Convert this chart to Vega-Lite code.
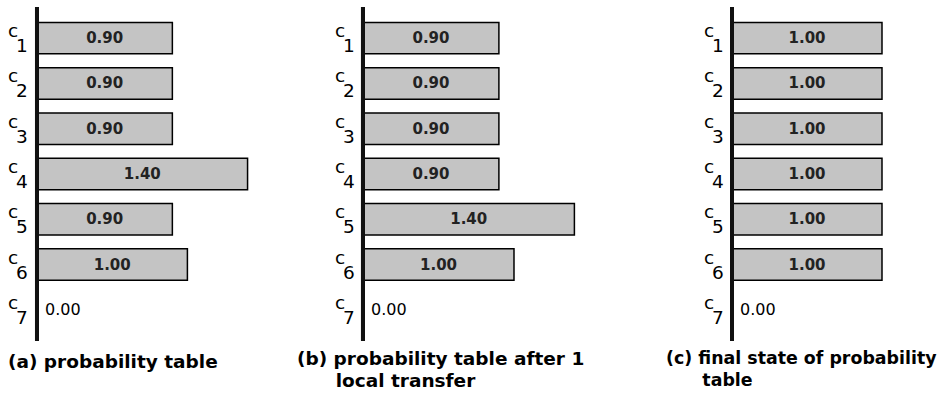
{
  "$schema": "https://vega.github.io/schema/vega-lite/v6.json",
  "padding": {"left": 0, "top": 5, "right": 0, "bottom": 0},
  "background": "white",
  "bounds": "flush",
  "spacing": 0,
  "config": {"view": {"fill": "white", "stroke": null}},
  "data": {"values": [
    {"panel": "a", "cell": "c1", "idx": "1", "value": 0.9},
    {"panel": "a", "cell": "c2", "idx": "2", "value": 0.9},
    {"panel": "a", "cell": "c3", "idx": "3", "value": 0.9},
    {"panel": "a", "cell": "c4", "idx": "4", "value": 1.4},
    {"panel": "a", "cell": "c5", "idx": "5", "value": 0.9},
    {"panel": "a", "cell": "c6", "idx": "6", "value": 1.0},
    {"panel": "a", "cell": "c7", "idx": "7", "value": 0.0},
    {"panel": "b", "cell": "c1", "idx": "1", "value": 0.9},
    {"panel": "b", "cell": "c2", "idx": "2", "value": 0.9},
    {"panel": "b", "cell": "c3", "idx": "3", "value": 0.9},
    {"panel": "b", "cell": "c4", "idx": "4", "value": 0.9},
    {"panel": "b", "cell": "c5", "idx": "5", "value": 1.4},
    {"panel": "b", "cell": "c6", "idx": "6", "value": 1.0},
    {"panel": "b", "cell": "c7", "idx": "7", "value": 0.0},
    {"panel": "c", "cell": "c1", "idx": "1", "value": 1.0},
    {"panel": "c", "cell": "c2", "idx": "2", "value": 1.0},
    {"panel": "c", "cell": "c3", "idx": "3", "value": 1.0},
    {"panel": "c", "cell": "c4", "idx": "4", "value": 1.0},
    {"panel": "c", "cell": "c5", "idx": "5", "value": 1.0},
    {"panel": "c", "cell": "c6", "idx": "6", "value": 1.0},
    {"panel": "c", "cell": "c7", "idx": "7", "value": 0.0}
  ]},
  "hconcat": [
    {
      "width": 326, "height": 334,
      "transform": [{"filter": "datum.panel == 'a'"}],
      "title": {"text": "(a) probability table", "orient": "bottom", "anchor": "start", "frame": "group", "dx": 8, "offset": 10, "font": "DejaVu Sans", "fontSize": 18.5, "fontWeight": "bold", "color": "black"},
      "encoding": {"y": {"field": "cell", "type": "nominal", "scale": {"domain": ["c1","c2","c3","c4","c5","c6","c7"], "paddingInner": 0.305, "paddingOuter": 0.34}, "axis": null}},
      "resolve": {"scale": {"x": "independent"}},
      "layer": [
        {"transform": [{"filter": "datum.value > 0"}], "mark": {"type": "bar", "fill": "#c4c4c4", "stroke": "black", "strokeWidth": 1.5},
         "encoding": {"x": {"field": "value", "type": "quantitative", "scale": {"domain": [-0.246, 1.9215], "nice": false, "zero": false}, "axis": null}}},
        {"mark": {"type": "rule", "stroke": "#111", "strokeWidth": 4},
         "encoding": {"x": {"datum": 0, "type": "quantitative", "scale": {"domain": [-0.246, 1.9215], "nice": false, "zero": false}, "axis": null}, "y": null}},
        {"mark": {"type": "text", "text": "c", "font": "DejaVu Sans", "fontSize": 18.5, "align": "center", "baseline": "alphabetic", "dx": -24, "dy": -1, "color": "black"},
         "encoding": {"x": {"datum": 0, "type": "quantitative", "scale": {"domain": [-0.246, 1.9215], "nice": false, "zero": false}, "axis": null}}},
        {"mark": {"type": "text", "font": "DejaVu Sans", "fontSize": 18.5, "align": "center", "baseline": "alphabetic", "dx": -15, "dy": 14, "color": "black"},
         "encoding": {"x": {"datum": 0, "type": "quantitative", "scale": {"domain": [-0.246, 1.9215], "nice": false, "zero": false}, "axis": null}, "text": {"field": "idx"}}},
        {"transform": [{"filter": "datum.value == 0"}], "mark": {"type": "text", "font": "DejaVu Sans", "fontSize": 16, "align": "left", "baseline": "middle", "dx": 8, "color": "black"},
         "encoding": {"x": {"datum": 0, "type": "quantitative", "scale": {"domain": [-0.246, 1.9215], "nice": false, "zero": false}, "axis": null}, "text": {"field": "value", "format": ".2f"}}},
        {"transform": [{"filter": "datum.value > 0"}], "mark": {"type": "text", "font": "DejaVu Sans", "fontSize": 15, "fontWeight": "bold", "align": "center", "baseline": "middle", "color": "#222222"},
         "encoding": {"x": {"field": "value", "type": "quantitative", "scale": {"domain": [-0.492, 3.843], "nice": false, "zero": false}, "axis": null}, "text": {"field": "value", "format": ".2f"}}}
      ]
    },
    {
      "width": 369, "height": 334,
      "transform": [{"filter": "datum.panel == 'b'"}],
      "title": {"text": ["(b) probability table after 1", "\u200b\u00a0\u00a0\u00a0\u00a0\u00a0\u00a0local transfer"], "orient": "bottom", "anchor": "start", "frame": "group", "dx": -29, "offset": 7, "lineHeight": 22, "font": "DejaVu Sans", "fontSize": 18.5, "fontWeight": "bold", "color": "black"},
      "encoding": {"y": {"field": "cell", "type": "nominal", "scale": {"domain": ["c1","c2","c3","c4","c5","c6","c7"], "paddingInner": 0.305, "paddingOuter": 0.34}, "axis": null}},
      "resolve": {"scale": {"x": "independent"}},
      "layer": [
        {"transform": [{"filter": "datum.value > 0"}], "mark": {"type": "bar", "fill": "#c4c4c4", "stroke": "black", "strokeWidth": 1.5},
         "encoding": {"x": {"field": "value", "type": "quantitative", "scale": {"domain": [-0.245, 2.1987], "nice": false, "zero": false}, "axis": null}}},
        {"mark": {"type": "rule", "stroke": "#111", "strokeWidth": 4},
         "encoding": {"x": {"datum": 0, "type": "quantitative", "scale": {"domain": [-0.245, 2.1987], "nice": false, "zero": false}, "axis": null}, "y": null}},
        {"mark": {"type": "text", "text": "c", "font": "DejaVu Sans", "fontSize": 18.5, "align": "center", "baseline": "alphabetic", "dx": -23, "dy": -1, "color": "black"},
         "encoding": {"x": {"datum": 0, "type": "quantitative", "scale": {"domain": [-0.245, 2.1987], "nice": false, "zero": false}, "axis": null}}},
        {"mark": {"type": "text", "font": "DejaVu Sans", "fontSize": 18.5, "align": "center", "baseline": "alphabetic", "dx": -14, "dy": 14, "color": "black"},
         "encoding": {"x": {"datum": 0, "type": "quantitative", "scale": {"domain": [-0.245, 2.1987], "nice": false, "zero": false}, "axis": null}, "text": {"field": "idx"}}},
        {"transform": [{"filter": "datum.value == 0"}], "mark": {"type": "text", "font": "DejaVu Sans", "fontSize": 16, "align": "left", "baseline": "middle", "dx": 8, "color": "black"},
         "encoding": {"x": {"datum": 0, "type": "quantitative", "scale": {"domain": [-0.245, 2.1987], "nice": false, "zero": false}, "axis": null}, "text": {"field": "value", "format": ".2f"}}},
        {"transform": [{"filter": "datum.value > 0"}], "mark": {"type": "text", "font": "DejaVu Sans", "fontSize": 15, "fontWeight": "bold", "align": "center", "baseline": "middle", "color": "#222222"},
         "encoding": {"x": {"field": "value", "type": "quantitative", "scale": {"domain": [-0.49, 4.3974], "nice": false, "zero": false}, "axis": null}, "text": {"field": "value", "format": ".2f"}}}
      ]
    },
    {
      "width": 245, "height": 334,
      "transform": [{"filter": "datum.panel == 'c'"}],
      "title": {"text": ["(c) final state of probability", "\u200b\u00a0\u00a0\u00a0\u00a0\u00a0\u00a0table"], "orient": "bottom", "anchor": "start", "frame": "group", "dx": -29, "offset": 7, "lineHeight": 22, "font": "DejaVu Sans", "fontSize": 17.4, "fontWeight": "bold", "color": "black"},
      "encoding": {"y": {"field": "cell", "type": "nominal", "scale": {"domain": ["c1","c2","c3","c4","c5","c6","c7"], "paddingInner": 0.305, "paddingOuter": 0.34}, "axis": null}},
      "resolve": {"scale": {"x": "independent"}},
      "layer": [
        {"transform": [{"filter": "datum.value > 0"}], "mark": {"type": "bar", "fill": "#c4c4c4", "stroke": "black", "strokeWidth": 1.5},
         "encoding": {"x": {"field": "value", "type": "quantitative", "scale": {"domain": [-0.2467, 1.3867], "nice": false, "zero": false}, "axis": null}}},
        {"mark": {"type": "rule", "stroke": "#111", "strokeWidth": 4},
         "encoding": {"x": {"datum": 0, "type": "quantitative", "scale": {"domain": [-0.2467, 1.3867], "nice": false, "zero": false}, "axis": null}, "y": null}},
        {"mark": {"type": "text", "text": "c", "font": "DejaVu Sans", "fontSize": 18.5, "align": "center", "baseline": "alphabetic", "dx": -23, "dy": -1, "color": "black"},
         "encoding": {"x": {"datum": 0, "type": "quantitative", "scale": {"domain": [-0.2467, 1.3867], "nice": false, "zero": false}, "axis": null}}},
        {"mark": {"type": "text", "font": "DejaVu Sans", "fontSize": 18.5, "align": "center", "baseline": "alphabetic", "dx": -14, "dy": 14, "color": "black"},
         "encoding": {"x": {"datum": 0, "type": "quantitative", "scale": {"domain": [-0.2467, 1.3867], "nice": false, "zero": false}, "axis": null}, "text": {"field": "idx"}}},
        {"transform": [{"filter": "datum.value == 0"}], "mark": {"type": "text", "font": "DejaVu Sans", "fontSize": 16, "align": "left", "baseline": "middle", "dx": 8, "color": "black"},
         "encoding": {"x": {"datum": 0, "type": "quantitative", "scale": {"domain": [-0.2467, 1.3867], "nice": false, "zero": false}, "axis": null}, "text": {"field": "value", "format": ".2f"}}},
        {"transform": [{"filter": "datum.value > 0"}], "mark": {"type": "text", "font": "DejaVu Sans", "fontSize": 15, "fontWeight": "bold", "align": "center", "baseline": "middle", "color": "#222222"},
         "encoding": {"x": {"field": "value", "type": "quantitative", "scale": {"domain": [-0.4934, 2.7734], "nice": false, "zero": false}, "axis": null}, "text": {"field": "value", "format": ".2f"}}}
      ]
    }
  ]
}
